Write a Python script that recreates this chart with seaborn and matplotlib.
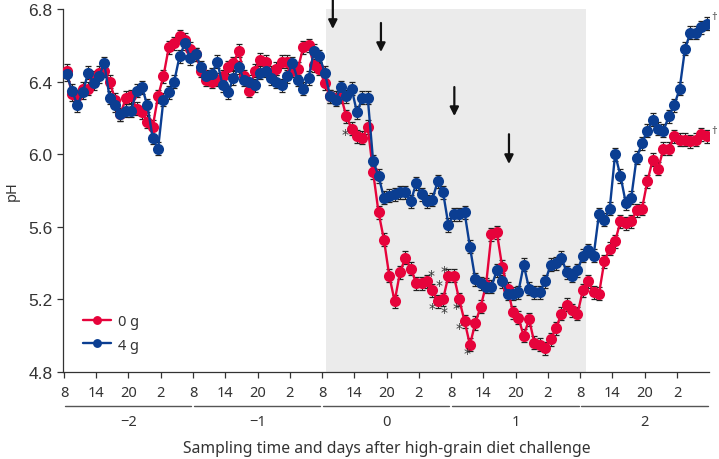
import numpy as np
import pandas as pd
import matplotlib
matplotlib.use("Agg")
import matplotlib.pyplot as plt
import seaborn as sns

# ---------------- data ----------------
# hourly samples, hours after 08:00 on day -2
sample_hour = np.arange(0.5, 120, 1.0)

ph_0g = [6.46, 6.33, 6.32, 6.36, 6.36, 6.42, 6.45, 6.46, 6.40, 6.30,
         6.22, 6.31, 6.32, 6.25, 6.23, 6.18, 6.15, 6.32, 6.43, 6.59,
         6.61, 6.65, 6.63, 6.58, 6.55, 6.46, 6.41, 6.40, 6.41, 6.43,
         6.48, 6.50, 6.57, 6.43, 6.35, 6.46, 6.52, 6.51, 6.45, 6.47,
         6.51, 6.51, 6.46, 6.47, 6.59, 6.60, 6.49, 6.47, 6.39, 6.32,
         6.31, 6.32, 6.21, 6.14, 6.10, 6.09, 6.15, 5.90, 5.68, 5.53,
         5.33, 5.19, 5.35, 5.43, 5.37, 5.29, 5.29, 5.30, 5.25, 5.19,
         5.20, 5.33, 5.33, 5.20, 5.08, 4.95, 5.07, 5.16, 5.28, 5.56,
         5.57, 5.38, 5.26, 5.13, 5.10, 5.00, 5.09, 4.96, 4.95, 4.93,
         4.98, 5.04, 5.12, 5.17, 5.14, 5.12, 5.25, 5.30, 5.24, 5.23,
         5.41, 5.48, 5.52, 5.63, 5.62, 5.63, 5.69, 5.70, 5.85, 5.97,
         5.92, 6.03, 6.03, 6.10, 6.08, 6.08, 6.07, 6.08, 6.11, 6.10]

ph_4g = [6.44, 6.35, 6.27, 6.34, 6.45, 6.39, 6.43, 6.50, 6.31, 6.27,
         6.22, 6.24, 6.24, 6.35, 6.37, 6.27, 6.09, 6.03, 6.30, 6.34,
         6.40, 6.54, 6.61, 6.53, 6.55, 6.48, 6.43, 6.44, 6.51, 6.38,
         6.34, 6.42, 6.48, 6.41, 6.40, 6.38, 6.45, 6.46, 6.42, 6.40,
         6.38, 6.43, 6.50, 6.41, 6.36, 6.42, 6.57, 6.54, 6.45, 6.32,
         6.30, 6.37, 6.32, 6.36, 6.23, 6.31, 6.31, 5.96, 5.88, 5.76,
         5.77, 5.78, 5.79, 5.79, 5.74, 5.84, 5.78, 5.74, 5.75, 5.85,
         5.79, 5.61, 5.67, 5.67, 5.68, 5.49, 5.31, 5.29, 5.27, 5.27,
         5.36, 5.30, 5.23, 5.23, 5.24, 5.39, 5.26, 5.24, 5.24, 5.30,
         5.39, 5.40, 5.43, 5.35, 5.33, 5.36, 5.44, 5.47, 5.44, 5.67,
         5.64, 5.70, 6.00, 5.88, 5.73, 5.76, 5.98, 6.06, 6.13, 6.19,
         6.14, 6.13, 6.21, 6.27, 6.36, 6.58, 6.67, 6.67, 6.70, 6.72]

sem_0g = 0.036
sem_4g = 0.036

groups = ["0 g", "4 g"]
tick_hours = list(range(0, 115, 6))
tick_labels = ["8", "14", "20", "2"] * 5
day_labels = ["\u22122", "\u22121", "0", "1", "2"]
challenge_window = (48.8, 97.1)

# annotations (hour, start pH, end pH)
arrows = [(50.0, 6.855, 6.69), (58.95, 6.723, 6.563),
          (72.6, 6.37, 6.21), (82.76, 6.11, 5.946)]
stars = [(52.26, 6.111), (68.35, 5.337), (69.78, 5.282), (68.53, 5.152),
         (70.71, 5.358), (70.67, 5.129), (73.0, 5.152), (73.46, 5.041),
         (74.95, 4.907)]
daggers = [(121.0, 6.761), (121.0, 6.133)]

# ---------------- plotting ----------------
sns.set_style("ticks")
plt.rcParams["font.family"] = ["Noto Sans", "DejaVu Sans"]

RED = "#E6033B"
BLUE = "#0B3E92"
INK = "#333333"

df = pd.concat([
    pd.DataFrame({"hour": sample_hour, "pH": ph_0g, "group": groups[0]}),
    pd.DataFrame({"hour": sample_hour, "pH": ph_4g, "group": groups[1]}),
])

fig = plt.figure(figsize=(7.19, 4.60), dpi=100)
ax = fig.add_axes([62.9 / 719, 1 - 373 / 460, 646.3 / 719, 363 / 460])

ax.axvspan(*challenge_window, color="#ebebeb", lw=0, zorder=0)

ax.errorbar(sample_hour, ph_0g, yerr=sem_0g, fmt="none", ecolor="#222222",
            elinewidth=0.8, capsize=2.4, capthick=0.9, zorder=1)
ax.errorbar(sample_hour, ph_4g, yerr=sem_4g, fmt="none", ecolor="#222222",
            elinewidth=0.8, capsize=2.4, capthick=0.9, zorder=1)

sns.lineplot(data=df, x="hour", y="pH", hue="group", hue_order=groups,
             palette=[RED, BLUE], marker="o", markersize=8,
             markeredgewidth=0, linewidth=1.7, errorbar=None, ax=ax,
             zorder=3)

ax.set_xlim(-0.2, 120)
ax.set_ylim(4.8, 6.8)
ax.set_yticks([4.8, 5.2, 5.6, 6.0, 6.4, 6.8])
ax.set_yticklabels(["4.8", "5.2", "5.6", "6.0", "6.4", "6.8"],
                   family="Liberation Sans", fontsize=12.5, color=INK)
ax.set_xticks(tick_hours)
ax.set_xticklabels(tick_labels, fontsize=10.5, color=INK)
ax.tick_params(axis="both", direction="out", length=4.5, width=0.9,
               color=INK)
ax.tick_params(axis="x", pad=5)
ax.tick_params(axis="y", pad=3)
sns.despine(ax=ax)
for s in ("left", "bottom"):
    ax.spines[s].set_color(INK)
    ax.spines[s].set_linewidth(0.9)

ax.set_ylabel("pH", fontsize=10.5, color=INK, labelpad=6)
ax.set_xlabel("")

# day brackets
trans = ax.get_xaxis_transform()
for d, lab in enumerate(day_labels):
    ax.plot([24 * d + 0.2, 24 * d + 23.7], [-0.095, -0.095], color="#555555",
            lw=1.0, transform=trans, clip_on=False)
    ax.text(24 * d + 12, -0.137, lab, transform=trans, ha="center",
            va="center", fontsize=10.5, color=INK)
ax.text(60, -0.21, "Sampling time and days after high-grain diet challenge",
        transform=trans, ha="center", va="center", fontsize=11.3, color=INK)

# arrows
for h, y0, y1 in arrows:
    ax.annotate("", xy=(h, y1), xytext=(h, y0),
                arrowprops=dict(arrowstyle="-|>", color="#111111", lw=1.6,
                                mutation_scale=13, shrinkA=0, shrinkB=0),
                annotation_clip=False, zorder=5)

for h, v in stars:
    ax.text(h, v, "*", ha="center", va="center", fontsize=10,
            color="#333333", family="DejaVu Sans", zorder=5)
for h, v in daggers:
    ax.text(h, v, "\u2020", ha="center", va="center", fontsize=8,
            color="#555555", clip_on=False)

leg = ax.legend(loc="center left", bbox_to_anchor=(0.031, 0.107),
                frameon=False, fontsize=10.5, handlelength=1.9,
                handletextpad=0.5, labelspacing=0.6, borderpad=0,
                borderaxespad=0, markerscale=0.8)
for t in leg.get_texts():
    t.set_color(INK)

fig.savefig("out.png", dpi=100)
